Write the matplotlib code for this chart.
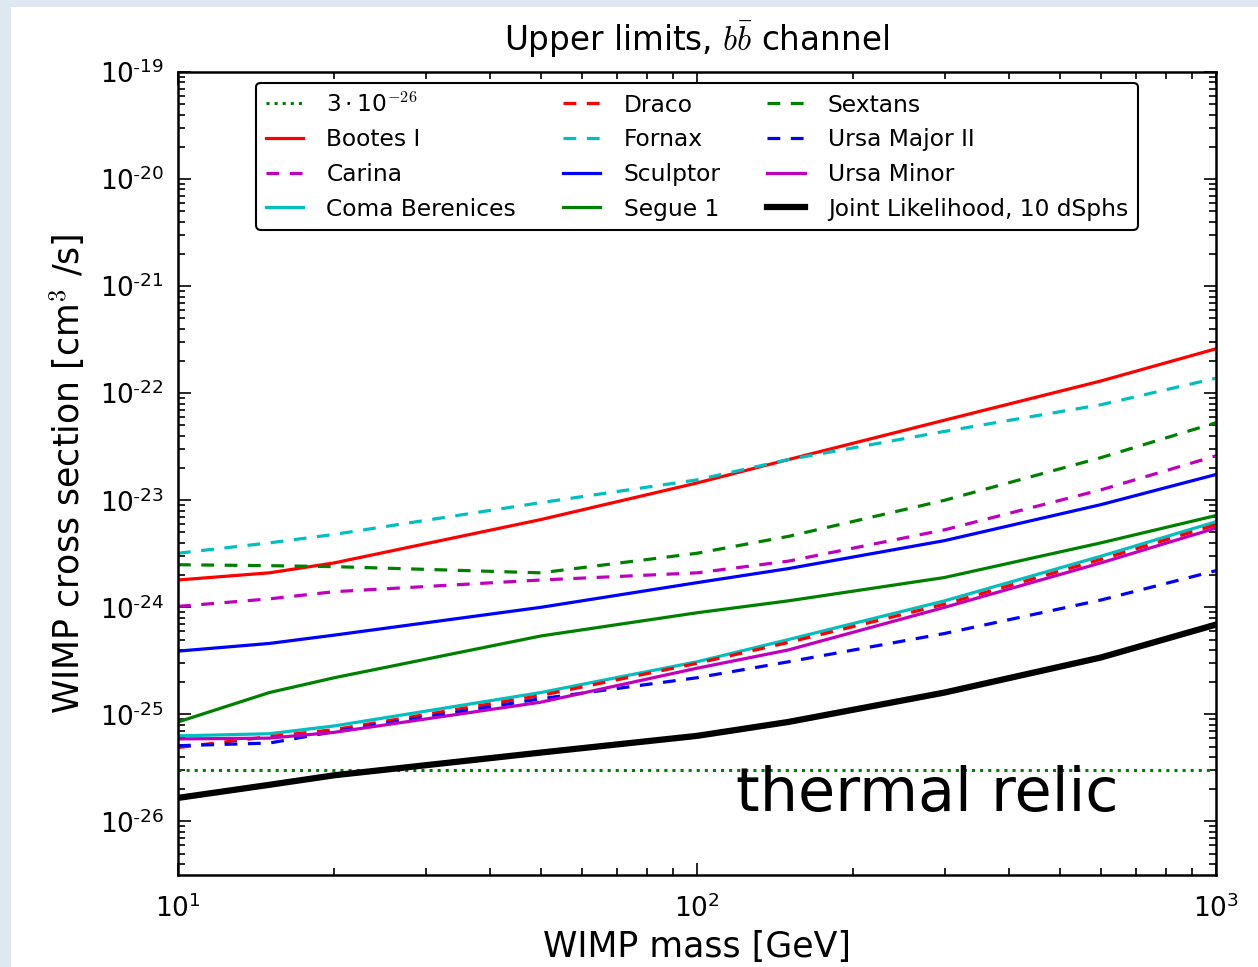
#!/usr/bin/env python
"""
Upper limits on the WIMP annihilation cross section (b bbar channel)
for individual dwarf spheroidals and the joint likelihood.
"""

import math
import matplotlib
matplotlib.use("Agg")
import matplotlib.pyplot as plt
from matplotlib.patches import Rectangle
from matplotlib.ticker import LogLocator, FuncFormatter, NullFormatter

plt.rcParams["mathtext.fontset"] = "cm"

# Masses [GeV]
mass = [10, 15, 20, 50, 100, 150, 300, 600, 1000]

# Cross section limits [cm^3/s]
bootes = [1.8e-24, 2.1e-24, 2.6e-24, 6.6e-24, 1.45e-23, 2.4e-23, 5.6e-23, 1.3e-22, 2.6e-22]
carina = [1.02e-24, 1.2e-24, 1.4e-24, 1.8e-24, 2.1e-24, 2.7e-24, 5.3e-24, 1.25e-23, 2.6e-23]
coma = [6.3e-26, 6.6e-26, 7.8e-26, 1.6e-25, 3.1e-25, 5.0e-25, 1.15e-24, 3.0e-24, 6.3e-24]
draco = [4.9e-26, 6.2e-26, 7.2e-26, 1.5e-25, 3.0e-25, 4.7e-25, 1.07e-24, 2.8e-24, 5.9e-24]
fornax = [3.2e-24, 4.0e-24, 4.8e-24, 9.5e-24, 1.55e-23, 2.4e-23, 4.4e-23, 7.8e-23, 1.38e-22]
sculptor = [3.9e-25, 4.6e-25, 5.5e-25, 1.0e-24, 1.7e-24, 2.3e-24, 4.2e-24, 9.1e-24, 1.74e-23]
segue = [8.5e-26, 1.6e-25, 2.2e-25, 5.4e-25, 8.9e-25, 1.15e-24, 1.9e-24, 4.0e-24, 7.2e-24]
sextans = [2.5e-24, 2.45e-24, 2.4e-24, 2.1e-24, 3.2e-24, 4.6e-24, 1.0e-23, 2.5e-23, 5.3e-23]
uma2 = [5.1e-26, 5.4e-26, 6.9e-26, 1.4e-25, 2.2e-25, 3.1e-25, 5.7e-25, 1.17e-24, 2.2e-24]
umi = [5.9e-26, 6.0e-26, 6.8e-26, 1.3e-25, 2.7e-25, 4.0e-25, 1.0e-24, 2.6e-24, 5.5e-24]
joint = [1.66e-26, 2.2e-26, 2.7e-26, 4.4e-26, 6.3e-26, 8.5e-26, 1.6e-25, 3.4e-25, 6.9e-25]

thermal = 3e-26

DASH = (0, (4, 3.3))

fig = plt.figure(figsize=(12.58, 9.67), dpi=100)
fig.patch.set_facecolor("#dfe7f1")
fig.patches.append(Rectangle((11 / 1258, 0), 1, 960 / 967, transform=fig.transFigure,
                             facecolor="white", edgecolor="none", zorder=-10))

ax = fig.add_axes([178 / 1258, 1 - 875 / 967, (1216 - 178) / 1258, (875 - 72) / 967])

lw = 2.3
ax.plot([mass[0], mass[-1]], [thermal, thermal], color="g", ls=":", lw=2.2,
        label=r"$\mathregular{3\cdot10}^{-26}$")
ax.plot(mass, bootes, color="r", lw=lw, label="Bootes I")
ax.plot(mass, carina, color="m", lw=lw, ls=DASH, label="Carina")
ax.plot(mass, coma, color="c", lw=lw, label="Coma Berenices")
ax.plot(mass, draco, color="r", lw=lw, ls=DASH, label="Draco")
ax.plot(mass, fornax, color="c", lw=lw, ls=DASH, label="Fornax")
ax.plot(mass, sculptor, color="b", lw=lw, label="Sculptor")
ax.plot(mass, segue, color="g", lw=lw, label="Segue 1")
ax.plot(mass, sextans, color="g", lw=lw, ls=DASH, label="Sextans")
ax.plot(mass, uma2, color="b", lw=lw, ls=DASH, label="Ursa Major II")
ax.plot(mass, umi, color="m", lw=lw, label="Ursa Minor")
ax.plot(mass, joint, color="k", lw=4.5, label="Joint Likelihood, 10 dSphs")

ax.set_xscale("log")
ax.set_yscale("log")
ax.set_xlim(10, 1000)
ax.set_ylim(10 ** -26.5, 1e-19)


def pow_label(v, pos):
    e = int(round(math.log10(v)))
    sign = r"\text{-}" if e < 0 else ""
    return r"$\mathregular{10^{%s%d}}$" % (sign, abs(e))


ax.xaxis.set_major_locator(LogLocator(base=10, numticks=10))
ax.yaxis.set_major_locator(LogLocator(base=10, numticks=20))
ax.xaxis.set_major_formatter(FuncFormatter(pow_label))
ax.yaxis.set_major_formatter(FuncFormatter(pow_label))
ax.xaxis.set_minor_formatter(NullFormatter())
ax.yaxis.set_minor_formatter(NullFormatter())

ax.tick_params(which="both", direction="in", top=True, right=True, labelsize=19, width=1.2)
ax.tick_params(which="major", length=9, pad=10)
ax.tick_params(axis="x", which="major", pad=14)
ax.tick_params(which="minor", length=5)
for s in ax.spines.values():
    s.set_linewidth(1.8)

ax.set_title(r"Upper limits, $b\bar{b}$ channel", fontsize=23.5, pad=15)
ax.set_xlabel("WIMP mass [GeV]", fontsize=25, labelpad=5)
ax.set_ylabel(r"WIMP cross section [cm$^3$ /s]", fontsize=25, labelpad=9)

leg = ax.legend(loc="upper center", ncol=3, fontsize=16.8, handlelength=1.6,
                columnspacing=2.0, handletextpad=1.0, labelspacing=0.5,
                bbox_to_anchor=(0.5, 1.0), borderaxespad=0.45, fancybox=True)
leg.get_frame().set_edgecolor("k")
leg.get_frame().set_linewidth(1.5)
leg.get_frame().set_alpha(1)

ax.text(0.538, 0.10, "thermal relic", transform=ax.transAxes, fontsize=43.5,
        family="DejaVu Sans", ha="left", va="center")

fig.savefig("out.png", dpi=100, facecolor=fig.get_facecolor())
